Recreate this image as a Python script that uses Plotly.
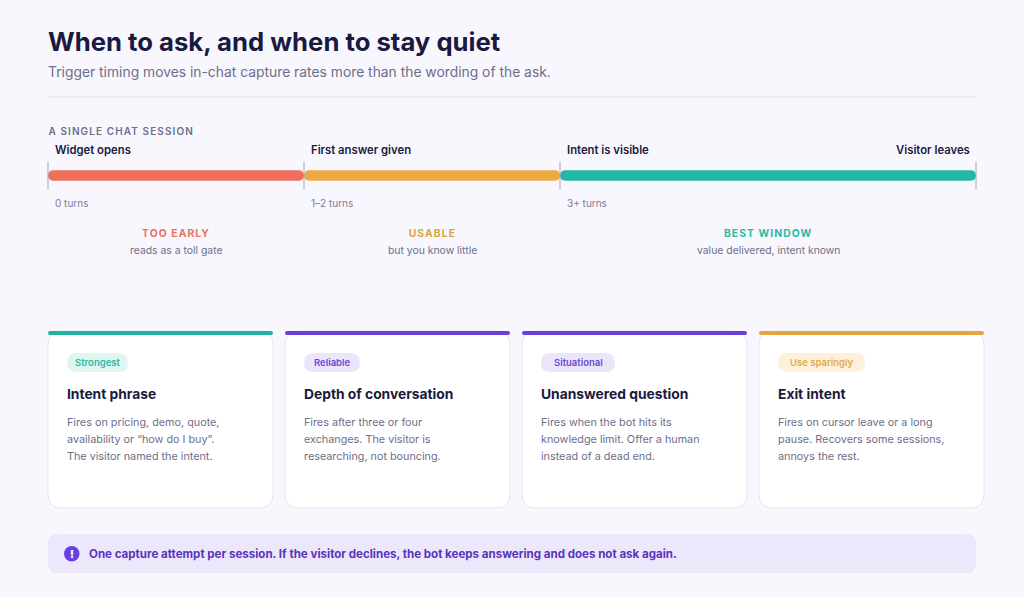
import numpy as np
import plotly.graph_objects as go

FONT = "Inter"
INK = "#1a1a40"
MUTED = "#6e6e8a"
BG = "#f8f7fe"

milestones = ["Widget opens", "First answer given", "Intent is visible", "Visitor leaves"]
turn_labels = ["0 turns", "1–2 turns", "3+ turns"]
stage_names = ["TOO EARLY", "USABLE", "BEST WINDOW"]
stage_notes = ["reads as a toll gate", "but you know little", "value delivered, intent known"]
stage_lengths = [256, 256, 416]
stage_colors = ["#f06f5c", "#eeaa42", "#24b8a8"]
stage_text_colors = ["#e8735f", "#d9a63e", "#2cb9a6"]

badges = ["Strongest", "Reliable", "Situational", "Use sparingly"]
card_titles = ["Intent phrase", "Depth of conversation", "Unanswered question", "Exit intent"]
card_bodies = [
    ["Fires on pricing, demo, quote,", "availability or “how do I buy”.", "The visitor named the intent."],
    ["Fires after three or four", "exchanges. The visitor is", "researching, not bouncing."],
    ["Fires when the bot hits its", "knowledge limit. Offer a human", "instead of a dead end."],
    ["Fires on cursor leave or a long", "pause. Recovers some sessions,", "annoys the rest."],
]
card_accents = ["#1fb3a0", "#6b3fdc", "#6b3fdc", "#e8a33d"]
badge_fills = ["#e0f6f1", "#ebe5fb", "#ebe5fb", "#fdf1dc"]
badge_text = ["#2fb8a3", "#6f45d8", "#6f45d8", "#e6a945"]
badge_widths = [61, 56, 74, 87]


def round_rect(x0, y0, x1, y1, r):
    return (
        f"M{x0 + r},{y0} L{x1 - r},{y0} Q{x1},{y0} {x1},{y0 + r} "
        f"L{x1},{y1 - r} Q{x1},{y1} {x1 - r},{y1} "
        f"L{x0 + r},{y1} Q{x0},{y1} {x0},{y1 - r} "
        f"L{x0},{y0 + r} Q{x0},{y0} {x0 + r},{y0} Z"
    )


def box(x0, y0, x1, y1, r, fill, line=None):
    return dict(
        type="path", xref="x", yref="y", layer="below", path=round_rect(x0, y0, x1, y1, r),
        fillcolor=fill, line=dict(color=line or fill, width=1 if line else 0),
    )


def label(text, x, y, size, color, weight=400, anchor="left", xref="x", xshift=0):
    return dict(
        text=text, x=x, y=y, xref=xref, yref="y", xanchor=anchor, yanchor="middle",
        xshift=xshift, showarrow=False, borderpad=0, borderwidth=0,
        font=dict(family=FONT, size=size, color=color, weight=weight),
    )


stage_starts = np.concatenate([[0], np.cumsum(stage_lengths)[:-1]])
stops = np.cumsum(stage_lengths)
tick_positions = [0] + stops.tolist()
session = ["session"]

fig = go.Figure()

for i, name in enumerate(stage_names):
    fig.add_trace(go.Bar(
        x=[stage_lengths[i]], y=session, base=[stage_starts[i]], orientation="h", width=0.36,
        marker=dict(color=stage_colors[i], cornerradius=5, line=dict(width=0)),
        name=name, xaxis="x2", yaxis="y2", showlegend=False,
    ))

fig.add_trace(go.Scatter(
    x=tick_positions, y=session * 4, mode="markers", xaxis="x2", yaxis="y2", cliponaxis=False,
    marker=dict(symbol="line-ns", size=20, line=dict(color="#a6a6b4", width=1)),
    showlegend=False,
))

shapes = [
    dict(type="line", xref="x", yref="y", x0=48, x1=976, y0=97, y1=97, layer="below",
         line=dict(color="#e7e7f3", width=1.5)),
]
annotations = [
    label("When to ask, and when to stay quiet", 48, 41.5, 25.7, INK, 700),
    label("Trigger timing moves in-chat capture rates more than the wording of the ask.", 48, 72, 13.85, MUTED),
    label("A SINGLE CHAT SESSION", 48, 131, 10, MUTED, 600, xshift=11.5),
]

for i, name in enumerate(milestones):
    if i < 3:
        annotations.append(label(name, tick_positions[i], 149.5, 11.3, INK, 600, xref="x2", xshift=6.5))
        annotations.append(label(turn_labels[i], tick_positions[i], 203, 10, "#7c7c92", xref="x2", xshift=7))
    else:
        annotations.append(label(name, tick_positions[i], 149.5, 11.3, INK, 600, "right", "x2", -6))

for i, name in enumerate(stage_names):
    mid = stage_starts[i] + stage_lengths[i] / 2
    annotations.append(label(name, mid, 233, 10.3, stage_text_colors[i], 700, "center", "x2"))
    annotations.append(label(stage_notes[i], mid, 250.5, 10.4, MUTED, 400, "center", "x2"))

for i in range(4):
    left = 48 + i * 237
    shapes.append(box(left, 331, left + 225, 508, 14, "#ffffff", "#e6e6f2"))
    shapes.append(box(left, 331, left + 225, 335, 2, card_accents[i]))
    shapes.append(box(left + 19, 353, left + 19 + badge_widths[i], 372, 9.5, badge_fills[i]))
    annotations.append(label(badges[i], left + 19 + badge_widths[i] / 2, 362.5, 9.5, badge_text[i], 600, "center"))
    annotations.append(label(card_titles[i], left + 19, 394, 13.8, INK, 700))
    for j, line in enumerate(card_bodies[i]):
        annotations.append(label(line, left + 19, 422.5 + j * 17, 10.8, MUTED))

shapes.append(box(48, 534, 976, 573, 10, "#ede7fb"))
shapes.append(dict(type="circle", xref="x", yref="y", x0=64, x1=79.5, y0=546, y1=561.5,
                   fillcolor="#6a3fe0", line=dict(width=0), layer="below"))
annotations.append(label("!", 71.75, 553.5, 11, "#ffffff", 800, "center"))
annotations.append(label(
    "One capture attempt per session. If the visitor declines, the bot keeps answering and does not ask again.",
    88.5, 553.5, 11.55, "#5a33bd", 700,
))

fig.update_layout(
    width=1024, height=597, margin=dict(l=0, r=0, t=0, b=0),
    paper_bgcolor=BG, plot_bgcolor="rgba(0,0,0,0)",
    barmode="overlay", hovermode=False, showlegend=False,
    font=dict(family=FONT),
    shapes=shapes, annotations=annotations,
    xaxis=dict(range=[0, 1024], domain=[0, 1], visible=False, fixedrange=True),
    yaxis=dict(range=[597, 0], domain=[0, 1], visible=False, fixedrange=True),
    xaxis2=dict(range=[0, int(stops[-1])], domain=[48 / 1024, 976 / 1024], anchor="y2",
                visible=False, fixedrange=True),
    yaxis2=dict(domain=[1 - 190 / 597, 1 - 161 / 597], anchor="x2", type="category",
                range=[-0.5, 0.5], visible=False, fixedrange=True),
)

# page margin off, and tracking on the all-caps labels
post = """
document.body.style.margin = '0';
document.body.style.overflow = 'hidden';
document.querySelectorAll('.annotation-text').forEach(function (t) {
  var s = t.textContent;
  if (s.length > 3 && s === s.toUpperCase()) { t.style.letterSpacing = '1.1px'; }
});
"""

fig.write_html("out.html", post_script=post, config={"displayModeBar": False})
